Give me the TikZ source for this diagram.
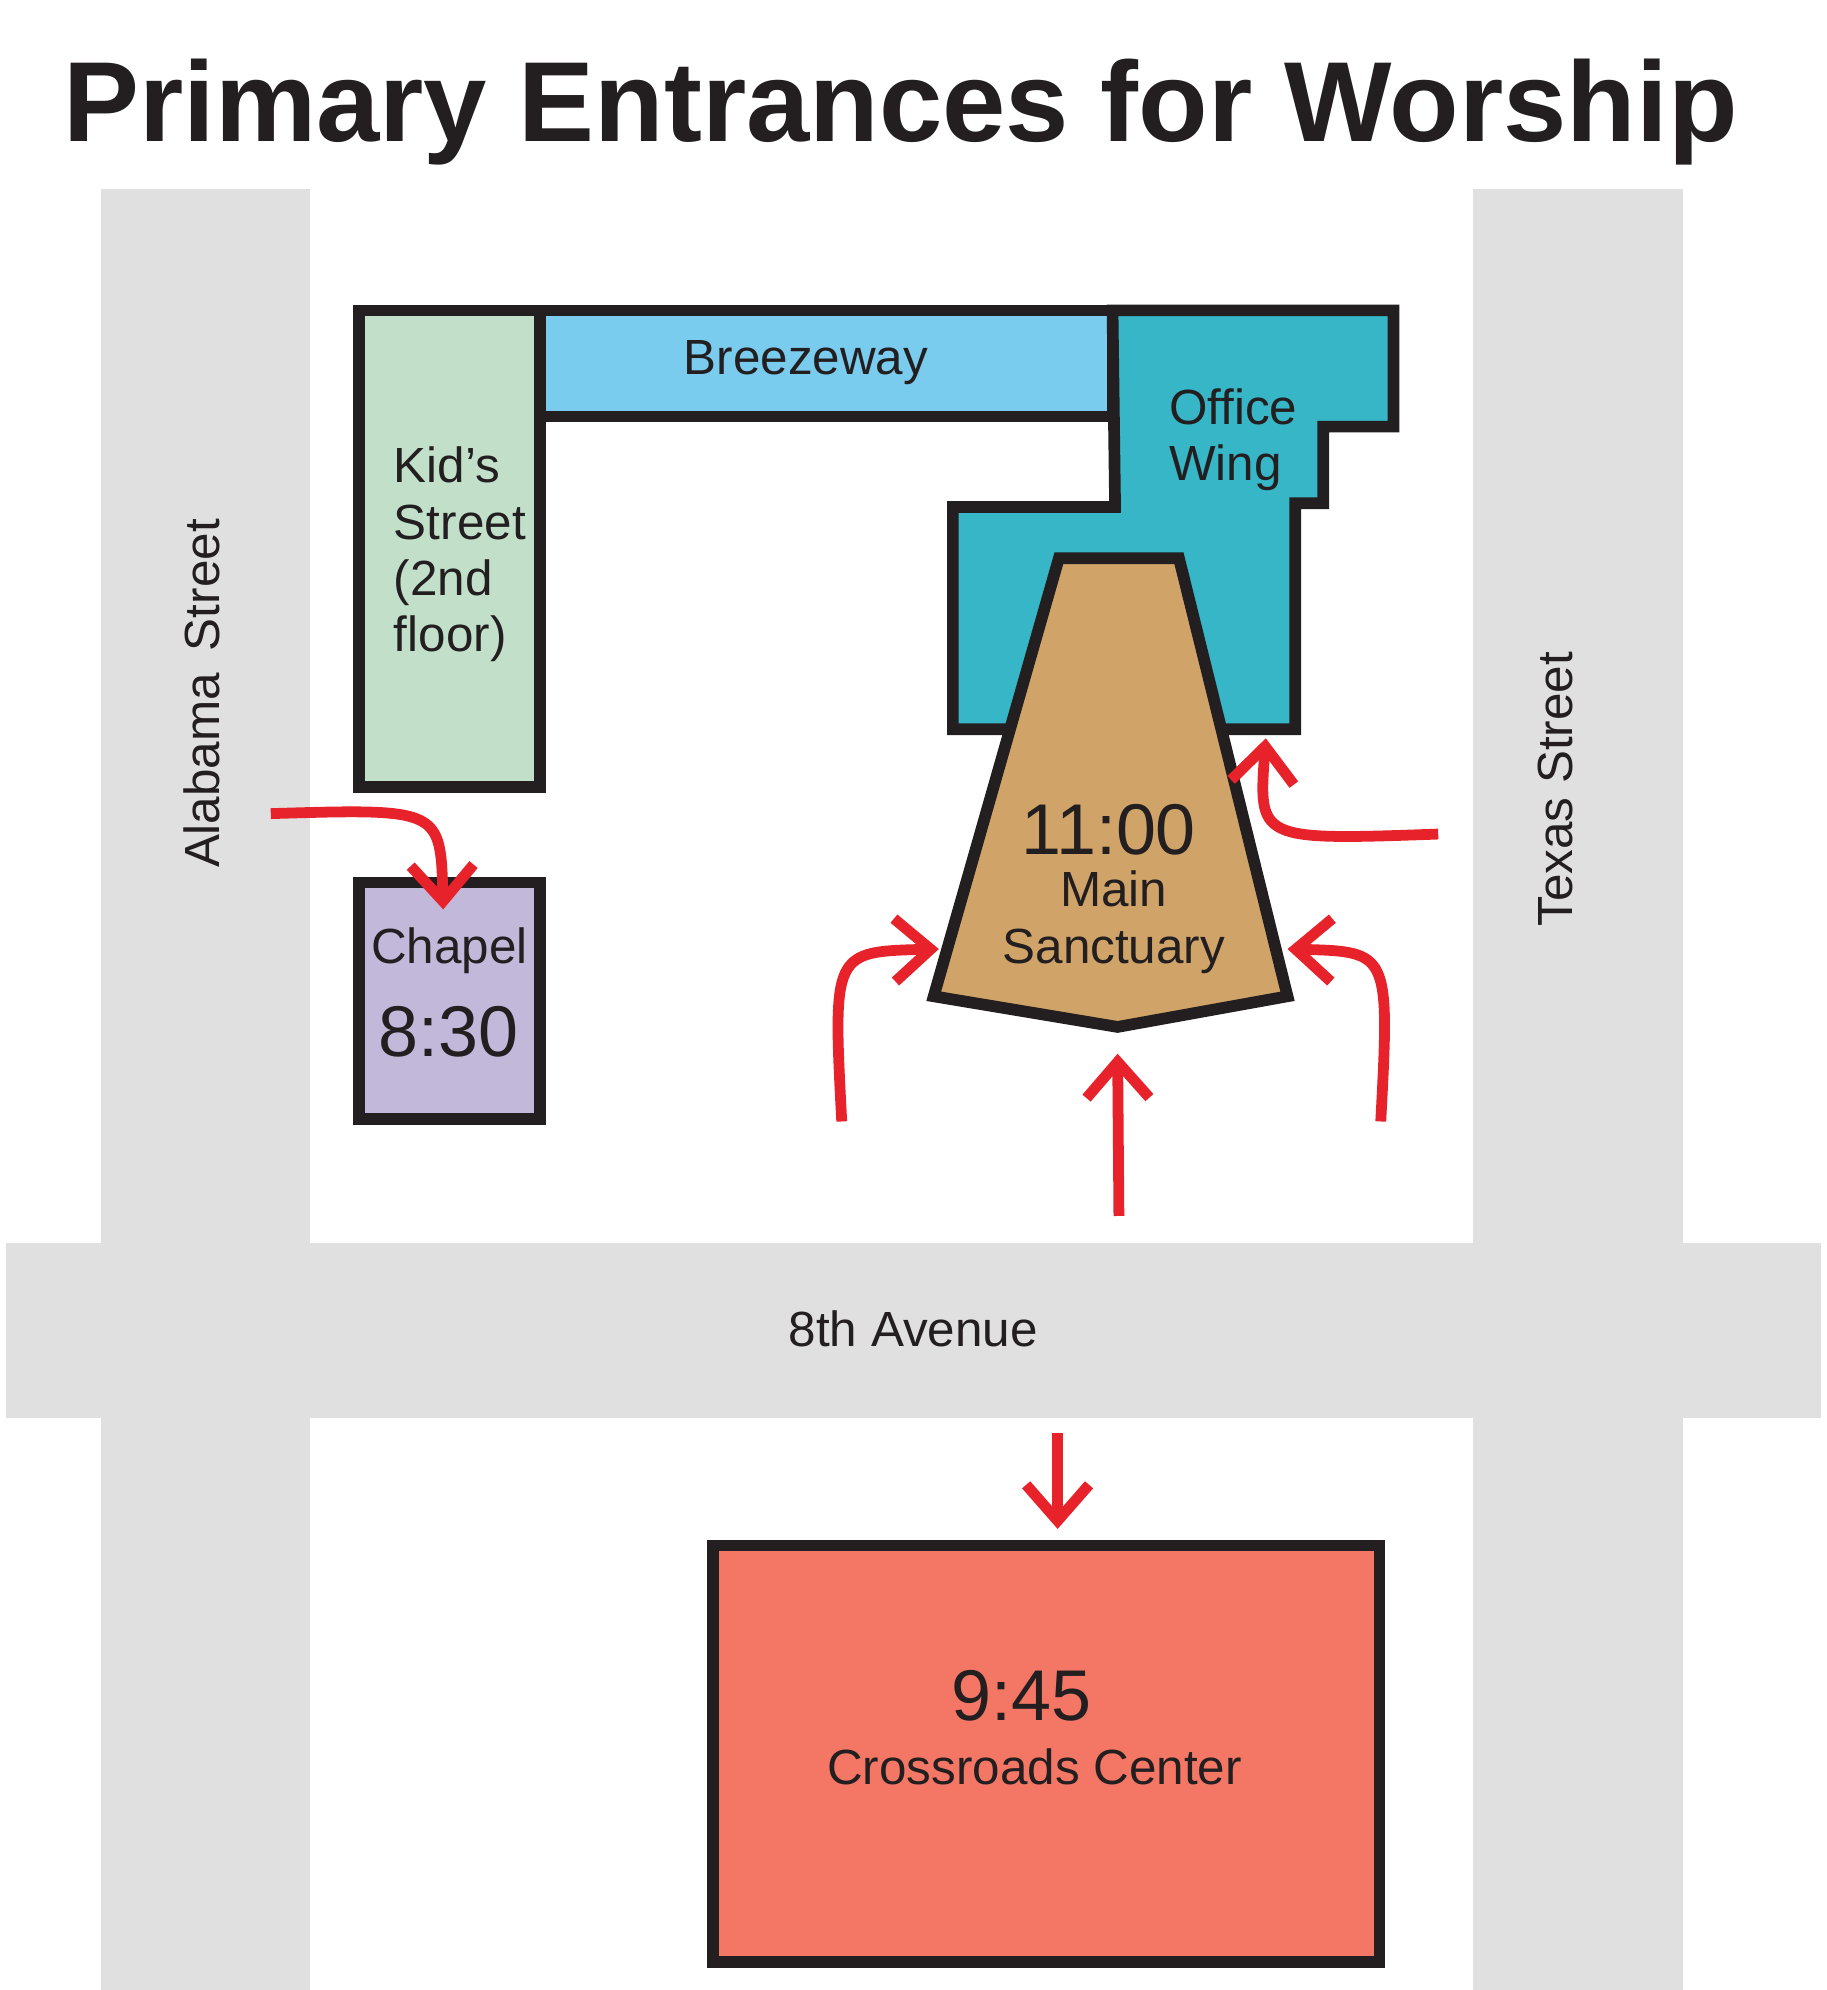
\documentclass[tikz,border=0pt]{standalone}
\usepackage{fontspec}
\setmainfont{Liberation Sans}
\usetikzlibrary{arrows.meta}
\definecolor{road}{HTML}{E0E0E0}
\definecolor{kids}{HTML}{C2E0C9}
\definecolor{breeze}{HTML}{7ACCEF}
\definecolor{office}{HTML}{36B6C6}
\definecolor{sanct}{HTML}{D0A468}
\definecolor{chapel}{HTML}{C2B9DA}
\definecolor{cross}{HTML}{F47766}
\definecolor{entry}{HTML}{E8222A}
\definecolor{ink}{HTML}{231F20}
\tikzset{
  bldg/.style={draw=ink, line width=2.6pt, line join=miter},
  lbl/.style={text=ink, font=\fontsize{11}{12.5}\selectfont},
  big/.style={text=ink, font=\fontsize{16}{18}\selectfont},
  entrance/.style={draw=entry, line width=2.4pt, -{Straight Barb[length=8pt,width=14pt,line width=2.4pt]}},
}
\begin{document}
\begin{tikzpicture}[x=0.01cm, y=-0.01cm]
    \useasboundingbox (0,0) rectangle (1430,1558);
    % Strassen
    \fill[road] (79,148) rectangle (243,1567);
    \fill[road] (1153,148) rectangle (1318,1567);
    \fill[road] (5,973) rectangle (1426,1110);

    % Titel
    \node[text=ink] (title) at (705,88) {\resizebox{13.1cm}{!}{\bfseries Primary Entrances for Worship}};

    % Gebaeude
    \draw[bldg, fill=kids] (281,243) rectangle (423,616);
    \draw[bldg, fill=breeze] (423,243) rectangle (871,326);
    \draw[bldg, fill=office] (871,243) -- (1091,243) -- (1091,334) -- (1036,334) -- (1036,394)
        -- (1014,394) -- (1014,571) -- (746,571) -- (746,397) -- (873,397) -- cycle;
    \draw[bldg, fill=sanct] (829,437) -- (923,437) -- (1008,780) -- (875,804) -- (731,780) -- cycle;
    \draw[bldg, fill=chapel] (281,691) rectangle (423,876);
    \draw[bldg, fill=cross] (558,1210) rectangle (1080,1536);

    % Beschriftung
    \node[lbl] (breeze) at (631,284) {Breezeway};
    \node[lbl, anchor=west, align=left] (kids) at (296,434) {Kid’s\\Street\\(2nd\\floor)};
    \node[lbl, anchor=west, align=left] (office) at (903,344) {Office\\Wing};
    \node[big] (t1100) at (868,650) {11:00};
    \node[lbl, align=center] (main) at (872,722) {Main\\Sanctuary};
    \node[lbl] (chapel) at (352,744) {Chapel};
    \node[big] (t830) at (351,808) {8:30};
    \node[big] (t945) at (800,1328) {9:45};
    \node[lbl] (crossroads) at (810,1383) {Crossroads Center};
    \node[lbl] (eighth) at (715,1040) {8th Avenue};
    \node[lbl, rotate=90] (alabama) at (158,543) {Alabama\, Street};
    \node[lbl, rotate=90] (texas) at (1218,618) {Texas Street};

    % Eingaenge
    \coordinate (a1) at (212,637);   \coordinate (c1) at (347,712);
    \coordinate (a2) at (1126,653);  \coordinate (c2) at (991,578);
    \coordinate (a3) at (659,878);   \coordinate (c3) at (735,743);
    \coordinate (a4) at (1081,878);  \coordinate (c4) at (1008,743);
    \coordinate (a5) at (876,952);   \coordinate (c5) at (875,825);
    \coordinate (a6) at (828,1122);  \coordinate (c6) at (828,1197);
    \draw[entrance] (a1) .. controls (345,633) .. (c1);
    \draw[entrance] (a2) .. controls (985,658) .. (c2);
    \draw[entrance] (a3) .. controls (652,745) .. (c3);
    \draw[entrance] (a4) .. controls (1088,745) .. (c4);
    \draw[entrance] (a5) -- (c5);
    \draw[entrance] (a6) -- (c6);
\end{tikzpicture}
\end{document}
